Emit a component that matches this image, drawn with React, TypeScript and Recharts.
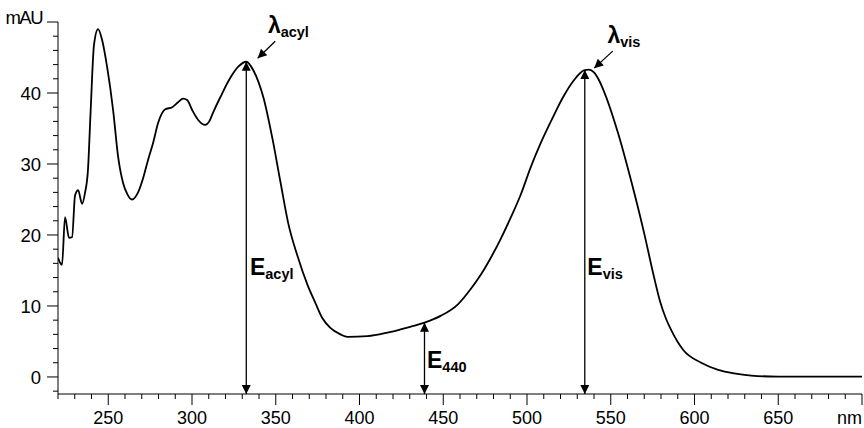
import { Line, LineChart, ReferenceDot, ReferenceLine, XAxis, YAxis } from 'recharts';

// spectrum (nm / mAU)
const WAVELENGTH = [
  220.0, 222.4, 224.2, 226.6, 228.4, 230.2, 232.0, 234.4, 236.1, 237.9, 239.4, 241.5, 243.9, 246.3, 249.3,
  252.9, 255.9, 258.9, 261.3, 264.2, 267.8, 270.8, 273.8, 276.8, 279.8, 284.0, 288.2, 291.7, 294.7, 297.1,
  300.1, 303.7, 307.9, 310.3, 312.7, 316.9, 322.8, 327.6, 332.4, 336.6, 339.6, 342.6, 348.0, 352.7, 357.5,
  362.9, 368.9, 373.7, 377.8, 382.6, 388.6, 392.8, 404.8, 416.7, 424.5, 431.7, 438.8, 448.4, 458.6, 466.4,
  472.4, 478.4, 484.4, 490.4, 496.3, 502.3, 508.3, 515.5, 521.5, 528.0, 534.0, 537.0, 540.0, 543.0, 546.0,
  554.3, 562.1, 569.9, 575.9, 579.5, 583.0, 586.1, 593.3, 604.0, 614.1, 623.7, 633.8, 649.9, 700.0,
];
const ABSORBANCE = [
  16.8, 15.8, 22.5, 19.6, 19.7, 25.6, 26.3, 24.4, 25.9, 29.2, 37.0, 46.8, 49.0, 47.5, 43.7,
  37.6, 31.0, 27.3, 25.8, 25.0, 26.0, 28.0, 30.6, 33.0, 35.8, 37.7, 38.0, 38.7, 39.2, 39.0,
  37.6, 36.2, 35.5, 36.0, 37.3, 39.4, 42.1, 43.7, 44.4, 43.2, 41.6, 39.4, 33.6, 27.6, 21.6,
  17.1, 13.0, 10.4, 8.3, 6.9, 6.0, 5.65, 5.75, 6.25, 6.7, 7.15, 7.65, 8.6, 10.2, 12.4,
  14.4, 16.8, 19.5, 22.5, 25.7, 29.6, 33.0, 36.6, 39.4, 41.8, 43.2, 43.3, 42.9, 41.8, 40.2,
  34.4, 27.7, 20.3, 14.0, 10.6, 8.2, 6.6, 3.8, 2.0, 1.0, 0.5, 0.2, 0.05, 0.05,
];

const X_TICKS = [
  220, 230, 240, 250, 260, 270, 280, 290, 300, 310, 320, 330, 340, 350, 360, 370, 380, 390, 400, 410, 420, 430,
  440, 450, 460, 470, 480, 490, 500, 510, 520, 530, 540, 550, 560, 570, 580, 590, 600, 610, 620, 630, 640, 650,
  660, 670, 680, 690, 700,
];
const Y_TICKS = [-2, 0, 2, 4, 6, 8, 10, 12, 14, 16, 18, 20, 22, 24, 26, 28, 30, 32, 34, 36, 38, 40, 42, 44, 46, 48, 50];

// vertical double arrows: position, top of the arrow, label
const E_ARROWS = [
  { nm: 332.4, top: 44.4, sub: 'acyl', labelNm: 334.6, labelY: 14.4 },
  { nm: 438.8, top: 7.65, sub: '440', labelNm: 440.3, labelY: 1.3 },
  { nm: 534.5, top: 43.25, sub: 'vis', labelNm: 536.0, labelY: 14.4 },
];
// lambda pointers: start, end, label
const LAMBDA_ARROWS = [
  { from: [349.7, 47.3], to: [339.2, 44.9], sub: 'acyl', labelNm: 345.3, labelY: 48.4 },
  { from: [551.2, 45.9], to: [540.1, 43.5], sub: 'vis', labelNm: 548.0, labelY: 47.0 },
];

const Y_MIN = -2.4;
const FONT = '"Liberation Sans", Arial, Helvetica, sans-serif';

const data = WAVELENGTH.map((nm, i) => ({ nm, mAU: ABSORBANCE[i] }));

function headPoints(tx: number, ty: number, fx: number, fy: number) {
  const dx = tx - fx;
  const dy = ty - fy;
  const len = Math.hypot(dx, dy) || 1;
  const ux = dx / len;
  const uy = dy / len;
  const L = 9;
  const W = 4.5;
  const bx = tx - ux * L;
  const by = ty - uy * L;
  return `${tx},${ty} ${bx - uy * W},${by + ux * W} ${bx + uy * W},${by - ux * W}`;
}

function Arrow(props: any) {
  const { x1, y1, x2, y2, both } = props;
  return (
    <g>
      <line x1={x1} y1={y1} x2={x2} y2={y2} stroke="#000" strokeWidth={1.3} />
      <polygon points={headPoints(x2, y2, x1, y1)} fill="#000" />
      {both && <polygon points={headPoints(x1, y1, x2, y2)} fill="#000" />}
    </g>
  );
}

function Label({ cx, cy, main, sub, size }: any) {
  return (
    <text x={cx} y={cy} fontFamily={FONT} fontWeight="bold" fill="#000">
      <tspan fontSize={size}>{main}</tspan>
      <tspan fontSize={14.5} dy={4}>
        {sub}
      </tspan>
    </text>
  );
}

const XTick = ({ x, y, payload }: any) => {
  const v = payload.value;
  const major = v % 50 === 0;
  return (
    <g>
      <line x1={x} x2={x} y1={y} y2={y + (major ? 11 : 5)} stroke="#000" />
      {major && v < 700 && (
        <text x={x} y={y + 30} textAnchor="middle" fontSize={18} fontFamily={FONT} fill="#000">
          {v}
        </text>
      )}
      {v === 700 && (
        <text x={x} y={y + 30} textAnchor="end" fontSize={18} fontFamily={FONT} fill="#000">
          nm
        </text>
      )}
    </g>
  );
};

const YTick = ({ x, y, payload }: any) => {
  const v = payload.value;
  const major = v >= 0 && v % 10 === 0;
  return (
    <g>
      <line x1={x - (major ? 11 : 5)} x2={x} y1={y} y2={y} stroke="#000" />
      {major && (
        <text
          x={v === 50 ? x - 16 : x - 17}
          y={y}
          dy={v === 50 ? '0.1em' : '0.36em'}
          textAnchor="end"
          fontSize={18.5}
          fontFamily={FONT}
          fill="#000"
          letterSpacing={v === 50 ? -1.5 : 0}
        >
          {v === 50 ? 'mAU' : v}
        </text>
      )}
    </g>
  );
};

export default function App() {
  return (
    <div style={{ position: 'absolute', left: 0, top: 0, background: '#fff' }}>
      <LineChart width={864} height={428} data={data} margin={{ top: 22, right: 2, bottom: 0, left: 0 }}>
        <XAxis
          type="number"
          dataKey="nm"
          domain={[220, 700]}
          ticks={X_TICKS}
          interval={0}
          height={34}
          tickSize={0}
          tickMargin={0}
          tickLine={false}
          axisLine={{ stroke: '#000' }}
          tick={<XTick />}
          allowDataOverflow
        />
        <YAxis
          type="number"
          domain={[Y_MIN, 50]}
          ticks={Y_TICKS}
          interval={0}
          width={58}
          tickSize={0}
          tickMargin={0}
          tickLine={false}
          axisLine={{ stroke: '#000' }}
          tick={<YTick />}
          allowDataOverflow
        />
        <Line
          type="monotone"
          dataKey="mAU"
          stroke="#000"
          strokeWidth={1.8}
          dot={false}
          isAnimationActive={false}
        />
        {E_ARROWS.map((a) => (
          <ReferenceLine
            key={a.sub}
            segment={[
              { x: a.nm, y: Y_MIN },
              { x: a.nm, y: a.top },
            ]}
            ifOverflow="visible"
            shape={(p: any) => <Arrow {...p} both />}
          />
        ))}
        {E_ARROWS.map((a) => (
          <ReferenceDot
            key={'l' + a.sub}
            x={a.labelNm}
            y={a.labelY}
            r={0}
            ifOverflow="visible"
            shape={(p: any) => <Label cx={p.cx} cy={p.cy} main="E" sub={a.sub} size={23} />}
          />
        ))}
        {LAMBDA_ARROWS.map((a) => (
          <ReferenceLine
            key={'a' + a.sub}
            segment={[
              { x: a.from[0], y: a.from[1] },
              { x: a.to[0], y: a.to[1] },
            ]}
            ifOverflow="visible"
            shape={(p: any) => <Arrow {...p} />}
          />
        ))}
        {LAMBDA_ARROWS.map((a) => (
          <ReferenceDot
            key={'t' + a.sub}
            x={a.labelNm}
            y={a.labelY}
            r={0}
            ifOverflow="visible"
            shape={(p: any) => <Label cx={p.cx} cy={p.cy} main="λ" sub={a.sub} size={23} />}
          />
        ))}
      </LineChart>
    </div>
  );
}
